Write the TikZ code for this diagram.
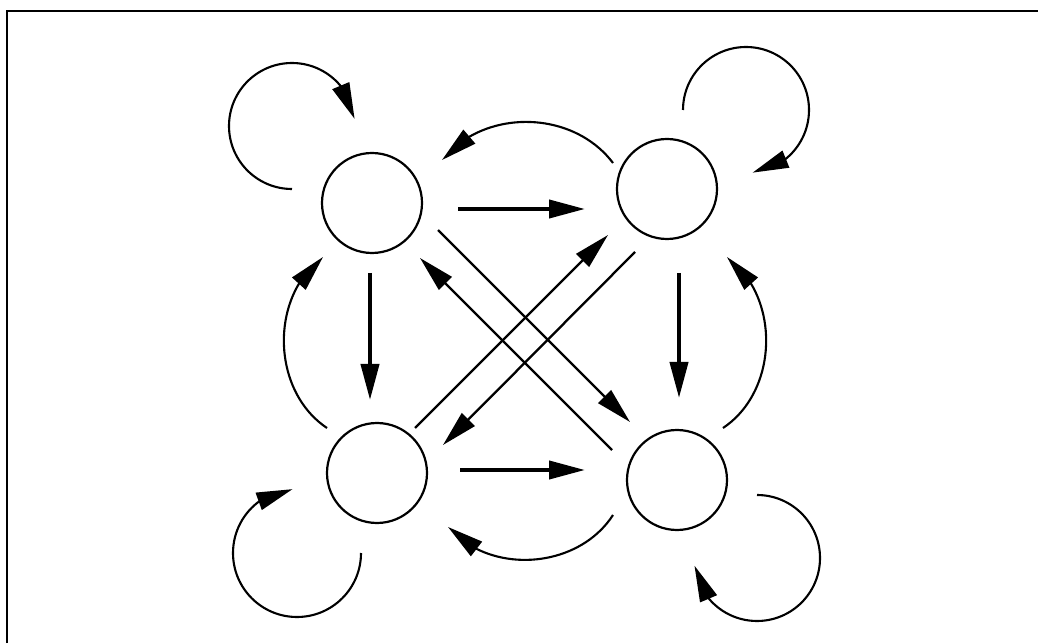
\documentclass[tikz,border=0pt]{standalone}
\usetikzlibrary{arrows.meta,bending}
\begin{document}
\begin{tikzpicture}[x=0.5pt,y=0.5pt,
  state/.style={circle,draw,line width=1.1pt,minimum size=50pt,inner sep=0pt},
  tipped/.style={-{Triangle[length=18pt,width=9pt,flex]}},
  heavyarrow/.style={tipped,line width=2pt},
  diagarrow/.style={tipped,line width=1.15pt},
  curvearrow/.style={tipped,line width=1.05pt}]
\useasboundingbox (0,0) rectangle (1038,643);
% frame
\draw[line width=1.3pt] (7,0) -- (7,632) -- (1038,632);
% states
\node[state] (tl) at (372,440) {};
\node[state] (tr) at (667,454) {};
\node[state] (bl) at (377,170) {};
\node[state] (br) at (677,163) {};
% straight arrows
\draw[heavyarrow] ([shift={(86,-6)}]tl.center) -- ([shift={(-82,-20)}]tr.center);
\draw[heavyarrow] ([shift={(83,3)}]bl.center) -- ([shift={(-92,10)}]br.center);
\draw[heavyarrow] ([shift={(-2,-70)}]tl.center) -- ([shift={(-7,73)}]bl.center);
\draw[heavyarrow] ([shift={(12,-84)}]tr.center) -- ([shift={(2,82)}]br.center);
% diagonals
\draw[diagarrow] ([shift={(66,-27)}]tl.center) -- ([shift={(-47,58)}]br.center);
\draw[diagarrow] ([shift={(-65,30)}]br.center) -- ([shift={(48,-55)}]tl.center);
\draw[diagarrow] ([shift={(38,45)}]bl.center) -- ([shift={(-59,-46)}]tr.center);
\draw[diagarrow] ([shift={(-32,-63)}]tr.center) -- ([shift={(66,28)}]bl.center);
% curved arrows between states
\draw[curvearrow] ([shift={(-50,45)}]bl.center) to[bend left=55] ([shift={(-49,-54)}]tl.center);
\draw[curvearrow] ([shift={(46,52)}]br.center) to[bend right=55] ([shift={(60,-68)}]tr.center);
\draw[curvearrow] ([shift={(-54,26)}]tr.center) to[bend right=52] ([shift={(70,43)}]tl.center);
\draw[curvearrow] ([shift={(-64,-35)}]br.center) to[bend left=53] ([shift={(71,-54)}]bl.center);
% self loops
\draw[curvearrow] ([shift={(-80,14)}]tl.center) arc[start angle=270,end angle=6.5,radius=63];
\draw[curvearrow] ([shift={(16,79)}]tr.center) arc[start angle=180,end angle=-84,radius=63];
\draw[curvearrow] ([shift={(-16,-80)}]bl.center) arc[start angle=0,end angle=-266,radius=64];
\draw[curvearrow] ([shift={(80,-15)}]br.center) arc[start angle=90,end angle=-173,radius=63];
\end{tikzpicture}
\end{document}
